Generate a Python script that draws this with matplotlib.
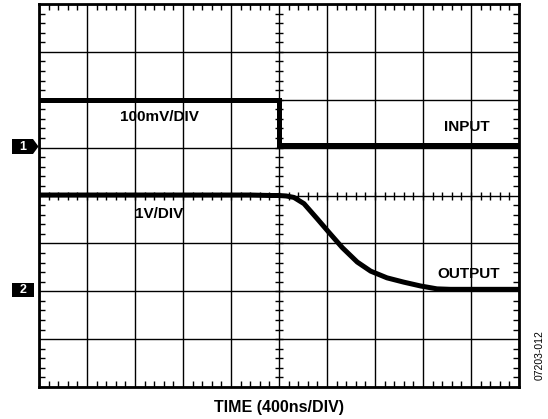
import numpy as np
import matplotlib
matplotlib.use("Agg")
import matplotlib.pyplot as plt
from matplotlib.patches import Polygon

# Data (in divisions; x: -5..5, y: -4..4)
input_t = [-5.0, 0.0, 0.0, 5.0]
input_v = [2.0, 2.0, 1.06, 1.06]

output_t = [-5.0, -0.6, -0.17, 0.0, 0.15, 0.31, 0.52, 0.80, 1.04, 1.32, 1.63, 1.91, 2.25, 2.60, 2.95, 3.29, 3.57, 4.0, 5.0]
output_v = [0.01, 0.01, 0.0, 0.0, -0.01, -0.04, -0.17, -0.49, -0.77, -1.09, -1.39, -1.58, -1.72, -1.81, -1.89, -1.95, -1.96, -1.96, -1.96]

x_label = "TIME (400ns/DIV)"
labels = {"100mV/DIV": (-2.5, 1.65), "1V/DIV": (-2.5, -0.38),
          "INPUT": (3.92, 1.43), "OUTPUT": (3.96, -1.64)}
code = "07203-012"

plt.rcParams['font.family'] = ['Liberation Sans', 'DejaVu Sans']

W, H = 548, 419
fig = plt.figure(figsize=(W/100, H/100), dpi=100)
ax = fig.add_axes([39/W, 32/H, 480/W, 383/H])
ax.set_xlim(-5, 5)
ax.set_ylim(-4, 4)

# grid
ax.set_xticks(np.arange(-5, 6, 1))
ax.set_yticks(np.arange(-4, 5, 1))
ax.grid(True, color='black', linewidth=1.0)
ax.set_xticklabels([])
ax.set_yticklabels([])
ax.set_xticks(np.arange(-5, 5.01, 0.2), minor=True)
ax.set_yticks(np.arange(-4, 4.01, 0.2), minor=True)
ax.tick_params(which='major', length=0)
ax.tick_params(which='minor', direction='in', length=4, width=1.0,
               top=True, right=True, bottom=True, left=True)
for s in ax.spines.values():
    s.set_linewidth(2.0)

# center-axis ticks
mt = np.arange(-5, 5.01, 0.2)
ax.plot(mt, np.zeros_like(mt), linestyle='none', marker='|', markersize=5.5,
        markeredgewidth=1.0, color='black', zorder=2)
mv = np.arange(-4, 4.01, 0.2)
ax.plot(np.zeros_like(mv), mv, linestyle='none', marker='_', markersize=5.5,
        markeredgewidth=1.0, color='black', zorder=2)

# traces
ax.plot(input_t, input_v, color='black', linewidth=3.6, solid_joinstyle='miter', zorder=3)
ax.plot(output_t, output_v, color='black', linewidth=3.6, solid_capstyle='butt',
        solid_joinstyle='round', zorder=3)

for txt, (x, y) in labels.items():
    ax.text(x, y, txt, ha='center', va='center', fontsize=11, fontweight='bold', zorder=4)

ax.set_xlabel(x_label, fontsize=11.5, fontweight='bold', labelpad=6)

# channel markers (pixel-based decorations)
def fx(px):
    return px / W
def fy(py):
    return 1 - py / H

p1 = Polygon([(fx(12), fy(139)), (fx(33), fy(139)), (fx(38.5), fy(146.5)),
              (fx(33), fy(154)), (fx(12), fy(154))], closed=True,
             transform=fig.transFigure, fc='black', ec='none')
fig.patches.append(p1)
fig.text(fx(22.5), fy(146.5), "1", color='white', fontsize=9, fontweight='bold',
         ha='center', va='center')
p2 = Polygon([(fx(12), fy(283)), (fx(34), fy(283)), (fx(34), fy(297)), (fx(12), fy(297))],
             closed=True, transform=fig.transFigure, fc='black', ec='none')
fig.patches.append(p2)
fig.text(fx(23), fy(290), "2", color='white', fontsize=9, fontweight='bold',
         ha='center', va='center')

fig.text(fx(540), fy(355), code, rotation=90, ha='center', va='center', fontsize=7.5)

fig.savefig("out.png", dpi=100)
